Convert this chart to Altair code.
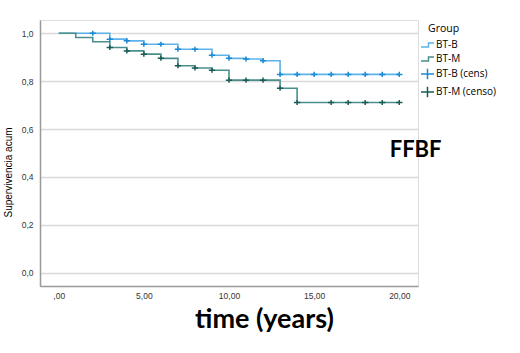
import altair as alt
import pandas as pd

# Kaplan-Meier step curves (time in years, cumulative survival)
bt_b_time = [0, 3, 4, 5, 7, 9, 10, 11, 12, 13, 20]
bt_b_surv = [1.0, 0.975, 0.968, 0.954, 0.933, 0.908, 0.895, 0.892, 0.885, 0.828, 0.828]
bt_b_cens = [2, 3, 4, 5, 6, 7, 8, 9, 10, 11, 12, 13, 14, 15, 16, 17, 18, 19, 20]

bt_m_time = [0, 1, 2, 3, 4, 5, 6, 7, 8, 9, 10, 13, 14, 20]
bt_m_surv = [1.0, 0.982, 0.964, 0.940, 0.926, 0.9125, 0.895, 0.864, 0.855, 0.845, 0.804, 0.770, 0.711, 0.711]
bt_m_cens = [3, 4, 5, 6, 7, 8, 9, 10, 11, 12, 13, 14, 16, 17, 18, 19, 20]

groups = ["BT-B", "BT-M", "BT-B (cens)", "BT-M (censo)"]
colors = ["#5cb3ea", "#4a8f8b", "#1a8ad4", "#1b5b57"]
step_path = "M-1,0.3H0.15V-0.3H1"
plus_path = "M-1,0H1M0,-0.8V0.8"
shapes = [step_path, step_path, plus_path, plus_path]

x_ticks = [0, 5, 10, 15, 20]
y_ticks = [0.0, 0.2, 0.4, 0.6, 0.8, 1.0]

annotation = ["FFBF"]
annot_x = [20.96]
annot_y = [0.482]


def surv_at(times, survs, t):
    val = survs[0]
    for ti, si in zip(times, survs):
        if ti <= t:
            val = si
    return val


lines = pd.DataFrame({"time": bt_b_time, "surv": bt_b_surv, "group": "BT-B"})
lines = pd.concat(
    [lines, pd.DataFrame({"time": bt_m_time, "surv": bt_m_surv, "group": "BT-M"})],
    ignore_index=True,
)
cens = pd.DataFrame(
    {
        "time": bt_b_cens,
        "surv": [surv_at(bt_b_time, bt_b_surv, t) for t in bt_b_cens],
        "group": "BT-B (cens)",
    }
)
cens = pd.concat(
    [
        cens,
        pd.DataFrame(
            {
                "time": bt_m_cens,
                "surv": [surv_at(bt_m_time, bt_m_surv, t) for t in bt_m_cens],
                "group": "BT-M (censo)",
            }
        ),
    ],
    ignore_index=True,
)
annot = pd.DataFrame({"label": annotation, "time": annot_x, "surv": annot_y})

x_scale = alt.Scale(domain=[-1.1, 21.1], nice=False, zero=False)
y_scale = alt.Scale(domain=[-0.055, 1.055], nice=False, zero=False)
color_scale = alt.Scale(domain=groups, range=colors)
shape_scale = alt.Scale(domain=groups, range=shapes)

x_axis = alt.Axis(
    values=x_ticks,
    grid=False,
    ticks=False,
    labelExpr="datum.value == 0 ? ',00' : replace(format(datum.value, '.2f'), '.', ',')",
    labelFont="Liberation Sans",
    labelFontSize=8.5,
    labelColor="#333333",
    labelPadding=5,
    domainColor="#999999",
    domainWidth=1.5,
    title="time (years)",
    titleFont="Lato",
    titleFontWeight="bold",
    titleFontSize=27,
    titleColor="#000000",
    titleX=224,
    titleY=41,
    titleBaseline="alphabetic",
)
y_axis = alt.Axis(
    values=y_ticks,
    grid=True,
    gridColor="#d9d9d9",
    gridWidth=1.5,
    ticks=False,
    labelExpr="replace(format(datum.value, '.1f'), '.', ',')",
    labelFont="Liberation Sans",
    labelFontSize=8.5,
    labelColor="#333333",
    labelPadding=7,
    domainColor="#999999",
    domainWidth=1.5,
    title="Supervivencia acum",
    titleFont="Liberation Sans",
    titleFontWeight="normal",
    titleFontSize=10,
    titleColor="#000000",
    titleX=-27,
    titleY=152,
)

legend = alt.Legend(
    title="Group",
    orient="none",
    legendX=388,
    legendY=4,
    titleFont="Open Sans",
    titleFontSize=10.5,
    titleFontWeight="normal",
    titleColor="#000000",
    titlePadding=3,
    labelFont="Open Sans",
    labelFontSize=10,
    labelColor="#000000",
    labelOffset=1,
    symbolOffset=-8,
    symbolSize=169,
    symbolStrokeWidth=1.5,
    symbolFillColor="transparent",
    rowPadding=1,
)

line_layer = (
    alt.Chart(lines)
    .mark_line(interpolate="step-after", strokeWidth=1.6)
    .encode(
        x=alt.X("time:Q", scale=x_scale, axis=x_axis),
        y=alt.Y("surv:Q", scale=y_scale, axis=y_axis),
        color=alt.Color("group:N", scale=color_scale, legend=legend),
        detail="group:N",
    )
)

cens_layer = (
    alt.Chart(cens)
    .mark_point(filled=False, size=40, strokeWidth=1.5, opacity=1)
    .encode(
        x=alt.X("time:Q", scale=x_scale),
        y=alt.Y("surv:Q", scale=y_scale),
        color=alt.Color("group:N", scale=color_scale, legend=legend),
        shape=alt.Shape("group:N", scale=shape_scale, legend=legend),
    )
)

text_layer = (
    alt.Chart(annot)
    .mark_text(
        font="Lato",
        fontWeight="bold",
        fontSize=22,
        color="#000000",
        align="center",
        baseline="alphabetic",
    )
    .encode(
        x=alt.X("time:Q", scale=x_scale),
        y=alt.Y("surv:Q", scale=y_scale),
        text="label:N",
    )
)

chart = (
    alt.layer(line_layer, cens_layer, text_layer)
    .resolve_scale(color="shared", shape="shared")
    .properties(
        width=378,
        height=266,
        autosize=alt.AutoSizeParams(type="none"),
        padding={"left": 40, "top": 20, "right": 102, "bottom": 67},
    )
    .configure_view(stroke=None)
    .configure(background="white")
)

chart.save("out.html", embed_options={"renderer": "svg", "actions": False})
